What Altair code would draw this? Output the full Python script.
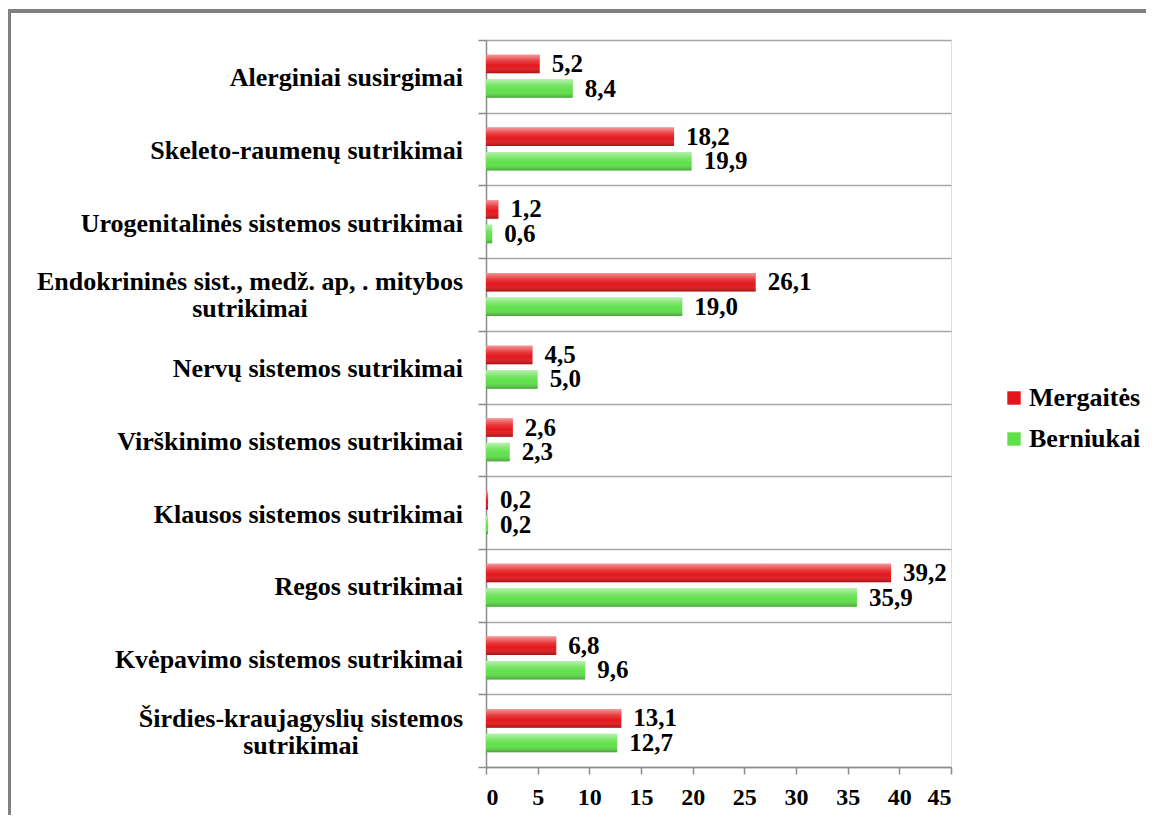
import altair as alt
import pandas as pd

categories = [
    "Alerginiai susirgimai",
    "Skeleto-raumenų sutrikimai",
    "Urogenitalinės sistemos sutrikimai",
    "Endokrininės sist., medž. ap, . mitybos\nsutrikimai",
    "Nervų sistemos sutrikimai",
    "Virškinimo sistemos sutrikimai",
    "Klausos sistemos sutrikimai",
    "Regos sutrikimai",
    "Kvėpavimo sistemos sutrikimai",
    "Širdies-kraujagyslių sistemos\nsutrikimai",
]
series = ["Mergaitės", "Berniukai"]
mergaites = [5.2, 18.2, 1.2, 26.1, 4.5, 2.6, 0.2, 39.2, 6.8, 13.1]
berniukai = [8.4, 19.9, 0.6, 19.0, 5.0, 2.3, 0.2, 35.9, 9.6, 12.7]
x_ticks = [0, 5, 10, 15, 20, 25, 30, 35, 40, 45]

RED = "#e3171b"
GREEN = "#5fe04a"
FONT = "Liberation Serif"
FS = 26

rows = []
for c, m, b in zip(categories, mergaites, berniukai):
    rows.append({"cat": c, "series": series[0], "value": m})
    rows.append({"cat": c, "series": series[1], "value": b})
df = pd.DataFrame(rows)
labels_df = pd.DataFrame({"cat": categories})

y_enc = alt.Y(
    "cat:N",
    sort=categories,
    scale=alt.Scale(paddingInner=0, paddingOuter=0),
    axis=alt.Axis(
        labels=False, title=None, tickBand="extent", grid=True,
        gridColor="#a6a6a6", gridWidth=1.5, domainColor="#8c8c8c",
        domainWidth=1.5, tickColor="#8c8c8c", tickWidth=1.5, tickSize=8,
    ),
)
yoff = alt.YOffset(
    "series:N", sort=series, scale=alt.Scale(paddingInner=0.245, paddingOuter=0.606)
)
x_enc = alt.X(
    "value:Q",
    scale=alt.Scale(domain=[0, 45], nice=False),
    axis=alt.Axis(
        values=x_ticks, title=None, grid=False, domainColor="#8c8c8c",
        domainWidth=1.5, tickColor="#8c8c8c", tickWidth=1.5, tickSize=7,
        labelFont=FONT, labelFontSize=24, labelFontWeight="bold",
        labelColor="#000000", labelPadding=11,
    ),
)

base = alt.Chart(df)

bars = base.mark_bar().encode(
    y=y_enc,
    yOffset=yoff,
    x=x_enc,
    color=alt.Color(
        "series:N",
        scale=alt.Scale(domain=series, range=[RED, GREEN]),
        legend=alt.Legend(
            orient="none", legendX=515, legendY=345, title=None,
            symbolType="square", symbolSize=180, symbolStrokeWidth=0,
            labelFont=FONT, labelFontSize=FS, labelFontWeight="bold",
            labelColor="#000000", rowPadding=15, labelOffset=2,
        ),
    ),
)

sheen = base.mark_bar(
    fill=alt.LinearGradient(
        gradient="linear",
        stops=[
            alt.GradientStop(color="rgba(255,255,255,0.55)", offset=0),
            alt.GradientStop(color="rgba(255,255,255,0.15)", offset=0.35),
            alt.GradientStop(color="rgba(255,255,255,0.0)", offset=0.6),
            alt.GradientStop(color="rgba(0,0,0,0.28)", offset=1),
        ],
        x1=0, x2=0, y1=0, y2=1,
    )
).encode(y=alt.Y("cat:N", sort=categories), yOffset=yoff, x="value:Q")

values = base.transform_calculate(
    lbl="replace(format(datum.value, '.1f'), '.', ',')"
).mark_text(
    align="left", baseline="middle", dx=12, font=FONT, fontSize=25,
    fontWeight="bold", color="#000000",
).encode(y=alt.Y("cat:N", sort=categories), yOffset=yoff, x="value:Q", text="lbl:N")

single = alt.Chart(labels_df).transform_filter(
    "indexof(datum.cat, '\\n') < 0"
).mark_text(
    align="right", baseline="middle", font=FONT, fontSize=FS,
    fontWeight="bold", color="#000000", dy=2,
).encode(y=alt.Y("cat:N", sort=categories), x=alt.value(-23), text="cat:N")

multi_layers = []
for c, cx in [(categories[3], -236), (categories[9], -185)]:
    multi_layers.append(
        alt.Chart(labels_df).transform_filter(
            alt.FieldEqualPredicate(field="cat", equal=c)
        ).mark_text(
            align="center", baseline="middle", font=FONT, fontSize=FS,
            fontWeight="bold", color="#000000", lineBreak="\n", lineHeight=27,
            dy=-12,
        ).encode(y=alt.Y("cat:N", sort=categories), x=alt.value(cx), text="cat:N")
    )

frame_v = alt.Chart(labels_df).mark_rule(color="#808080", strokeWidth=3).encode(
    x=alt.value(-477), y=alt.value(-29), y2=alt.value(810)
)
frame_h = alt.Chart(labels_df).mark_rule(color="#808080", strokeWidth=3).encode(
    x=alt.value(-478), x2=alt.value(700), y=alt.value(-29)
)

chart = alt.layer(
    frame_v, frame_h, bars, sheen, values, single, *multi_layers
).properties(
    width=465, height=727,
    padding={"left": 478, "top": 32, "right": 195, "bottom": 48},
    autosize=alt.AutoSizeParams(type="none"),
).configure_view(stroke=None).configure(background="#ffffff", font=FONT)

chart.save("out.html", embed_options={"renderer": "svg", "actions": False})
